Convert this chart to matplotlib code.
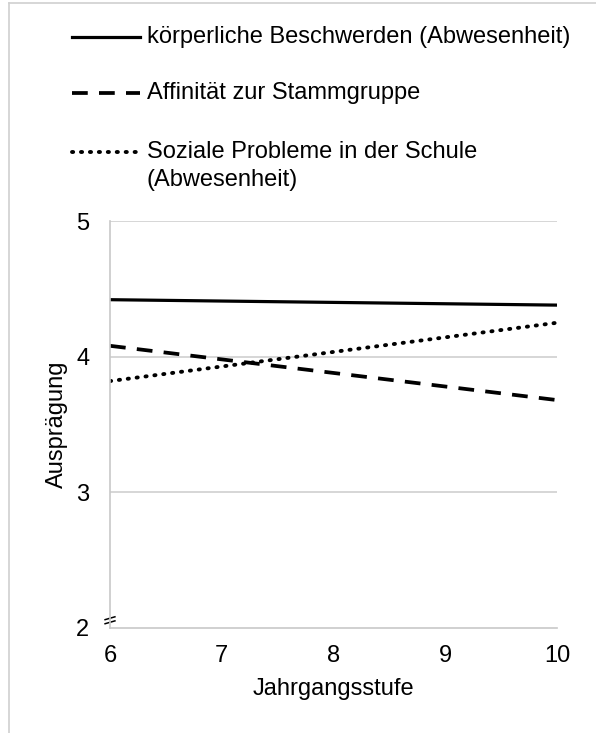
import numpy as np
import matplotlib.pyplot as plt
from matplotlib.lines import Line2D

plt.rcParams['font.family'] = ['Liberation Sans', 'DejaVu Sans']

jahrgang = [6, 10]
beschwerden = [4.42, 4.38]
affinitaet = [4.08, 3.68]
soziale = [3.82, 4.25]
labels = ["körperliche Beschwerden (Abwesenheit)",
          "Affinität zur Stammgruppe",
          "Soziale Probleme in der Schule\n(Abwesenheit)"]
yticks = [2, 3, 4, 5]
xticks = [6, 7, 8, 9, 10]

W, H = 596, 733
FS = 17
fig = plt.figure(figsize=(W / 100, H / 100), dpi=100)
ax = fig.add_axes([110 / W, 1 - 628 / H, 447 / W, 407 / H])

styles = [dict(ls="-", lw=2.3),
          dict(ls=(0, (4.2, 3.0)), lw=2.7),
          dict(ls=(0, (0.3, 2.0)), lw=2.8, dash_capstyle="round")]
series = [beschwerden, affinitaet, soziale]
for vals, st in zip(series, styles):
    ax.plot(jahrgang, vals, color="black", **st)

ax.set_xlim(6, 10)
ax.set_ylim(2, 5)
ax.set_xticks(xticks)
ax.set_yticks(yticks)
ax.tick_params(length=0, labelsize=FS)
ax.tick_params(axis="x", pad=12)
ax.tick_params(axis="y", pad=15)
for v in yticks[1:]:
    ax.axhline(v, color="#d0d0d0", lw=1.2, zorder=0)
for s in ["top", "right"]:
    ax.spines[s].set_visible(False)
for s in ["left", "bottom"]:
    ax.spines[s].set_color("#c8c8c8")
    ax.spines[s].set_linewidth(1.2)
ax.set_xlabel("Jahrgangsstufe", fontsize=FS, labelpad=8)
ax.set_ylabel("Ausprägung", fontsize=FS, labelpad=6)

# axis break mark near y = 2
for dy in (0.014, 0.024):
    ax.plot([-0.011, 0.011], [dy - 0.0035, dy + 0.0035], transform=ax.transAxes,
            color="black", lw=1.1, clip_on=False)

# legend drawn by hand above the plot
rows = [37, 93, 152]
for y, lab, st in zip(rows, labels, styles):
    fig.add_artist(Line2D([72 / W, 140 / W], [1 - y / H, 1 - y / H],
                          color="black", transform=fig.transFigure, **st))
    for i, part in enumerate(lab.split("\n")):
        fig.text(147 / W, 1 - (y + 6 + 28 * i) / H, part, fontsize=FS,
                 va="baseline")

# light frame of the original image
fig.add_artist(Line2D([9 / W, 9 / W], [0, 1 - 3 / H], color="#d0d0d0", lw=1.2))
fig.add_artist(Line2D([9 / W, 1], [1 - 3 / H, 1 - 3 / H], color="#d0d0d0", lw=1.2))

fig.savefig("out.png", dpi=100)
